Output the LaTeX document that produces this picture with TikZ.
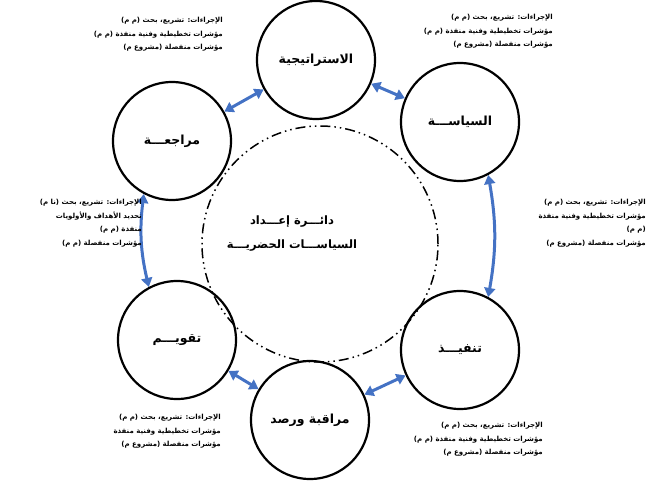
\documentclass[tikz,border=0pt]{standalone}
\usepackage{fontspec}
\usetikzlibrary{arrows.meta}
\newfontfamily\arabicfont[Script=Arabic]{DejaVu Sans}
\TeXXeTstate=1
\definecolor{arrblue}{RGB}{68,114,196}
\tikzset{
  stage/.style={circle,draw=black,line width=2.2pt,minimum size=118pt,inner sep=0pt,font=\arabicfont\bfseries\fontsize{12.5}{14}\selectfont},
  bigring/.style={circle,draw=black,line width=1.5pt,minimum size=236pt,inner sep=0pt,dash pattern=on 10pt off 4pt on 1.5pt off 4pt on 1.5pt off 4pt},
  centertext/.style={font=\arabicfont\bfseries\fontsize{11.5}{24}\selectfont,align=center,inner sep=0pt},
  biarrow/.style={{Triangle[length=9pt,width=11pt]}-{Triangle[length=9pt,width=11pt]},draw=arrblue,line width=3pt},
  note/.style={font=\arabicfont\bfseries\fontsize{7}{13.5}\selectfont,align=right,inner sep=0pt}
}
\begin{document}
\begin{tikzpicture}[x=1pt,y=-1pt]
\useasboundingbox (0,0) rectangle (647,487);
\node[bigring] (ring) at (320,244) {};
\node[centertext] (ct) at (292,234) {\beginR دائـــرة إعـــداد\endR\\\beginR السياســـات الحضريـــة\endR};
\node[stage] (s1) at (316,60) {\beginR الاستراتيجية\endR};
\node[stage] (s2) at (460,122) {\beginR السياســـة\endR};
\node[stage] (s3) at (460,350) {\beginR تنفيـــذ\endR};
\node[stage] (s4) at (310,420) {\beginR مراقبة ورصد\endR};
\node[stage] (s5) at (177,340) {\beginR تقويـــم\endR};
\node[stage] (s6) at (172,141) {\beginR مراجعـــة\endR};
\draw[biarrow] (s6) -- (s1);
\draw[biarrow] (s1) -- (s2);
\draw[biarrow] (s2.-62) to[bend left=10] (s3.62);
\draw[biarrow] (s3) -- (s4);
\draw[biarrow] (s4) -- (s5);
\draw[biarrow] (s5.118) to[bend left=10] (s6.-118);
\node[note,anchor=north east] (n1) at (223,17) {\beginR الإجراءات: تشريع، بحث (م م)\endR\\\beginR مؤشرات تخطيطية وفنية منفذة (م م)\endR\\\beginR مؤشرات منفصلة (مشروع م)\endR};
\node[note,anchor=north east] (n2) at (553,14) {\beginR الإجراءات: تشريع، بحث (م م)\endR\\\beginR مؤشرات تخطيطية وفنية منفذة (م م)\endR\\\beginR مؤشرات منفصلة (مشروع م)\endR};
\node[note,anchor=north east] (n3) at (646,199) {\beginR الإجراءات: تشريع، بحث (م م)\endR\\\beginR مؤشرات تخطيطية وفنية منفذة\endR\\\beginR (م م)\endR\\\beginR مؤشرات منفصلة (مشروع م)\endR};
\node[note,anchor=north east] (n4) at (142,199) {\beginR الإجراءات: تشريع، بحث (نا م)\endR\\\beginR تحديد الأهداف والأولويات\endR\\\beginR منفذة (م م)\endR\\\beginR مؤشرات منفصلة (م م)\endR};
\node[note,anchor=north east] (n5) at (221,414) {\beginR الإجراءات: تشريع، بحث (م م)\endR\\\beginR مؤشرات تخطيطية وفنية منفذة\endR\\\beginR مؤشرات منفصلة (مشروع م)\endR};
\node[note,anchor=north east] (n6) at (543,422) {\beginR الإجراءات: تشريع، بحث (م م)\endR\\\beginR مؤشرات تخطيطية وفنية منفذة (م م)\endR\\\beginR مؤشرات منفصلة (مشروع م)\endR};
\end{tikzpicture}
\end{document}
